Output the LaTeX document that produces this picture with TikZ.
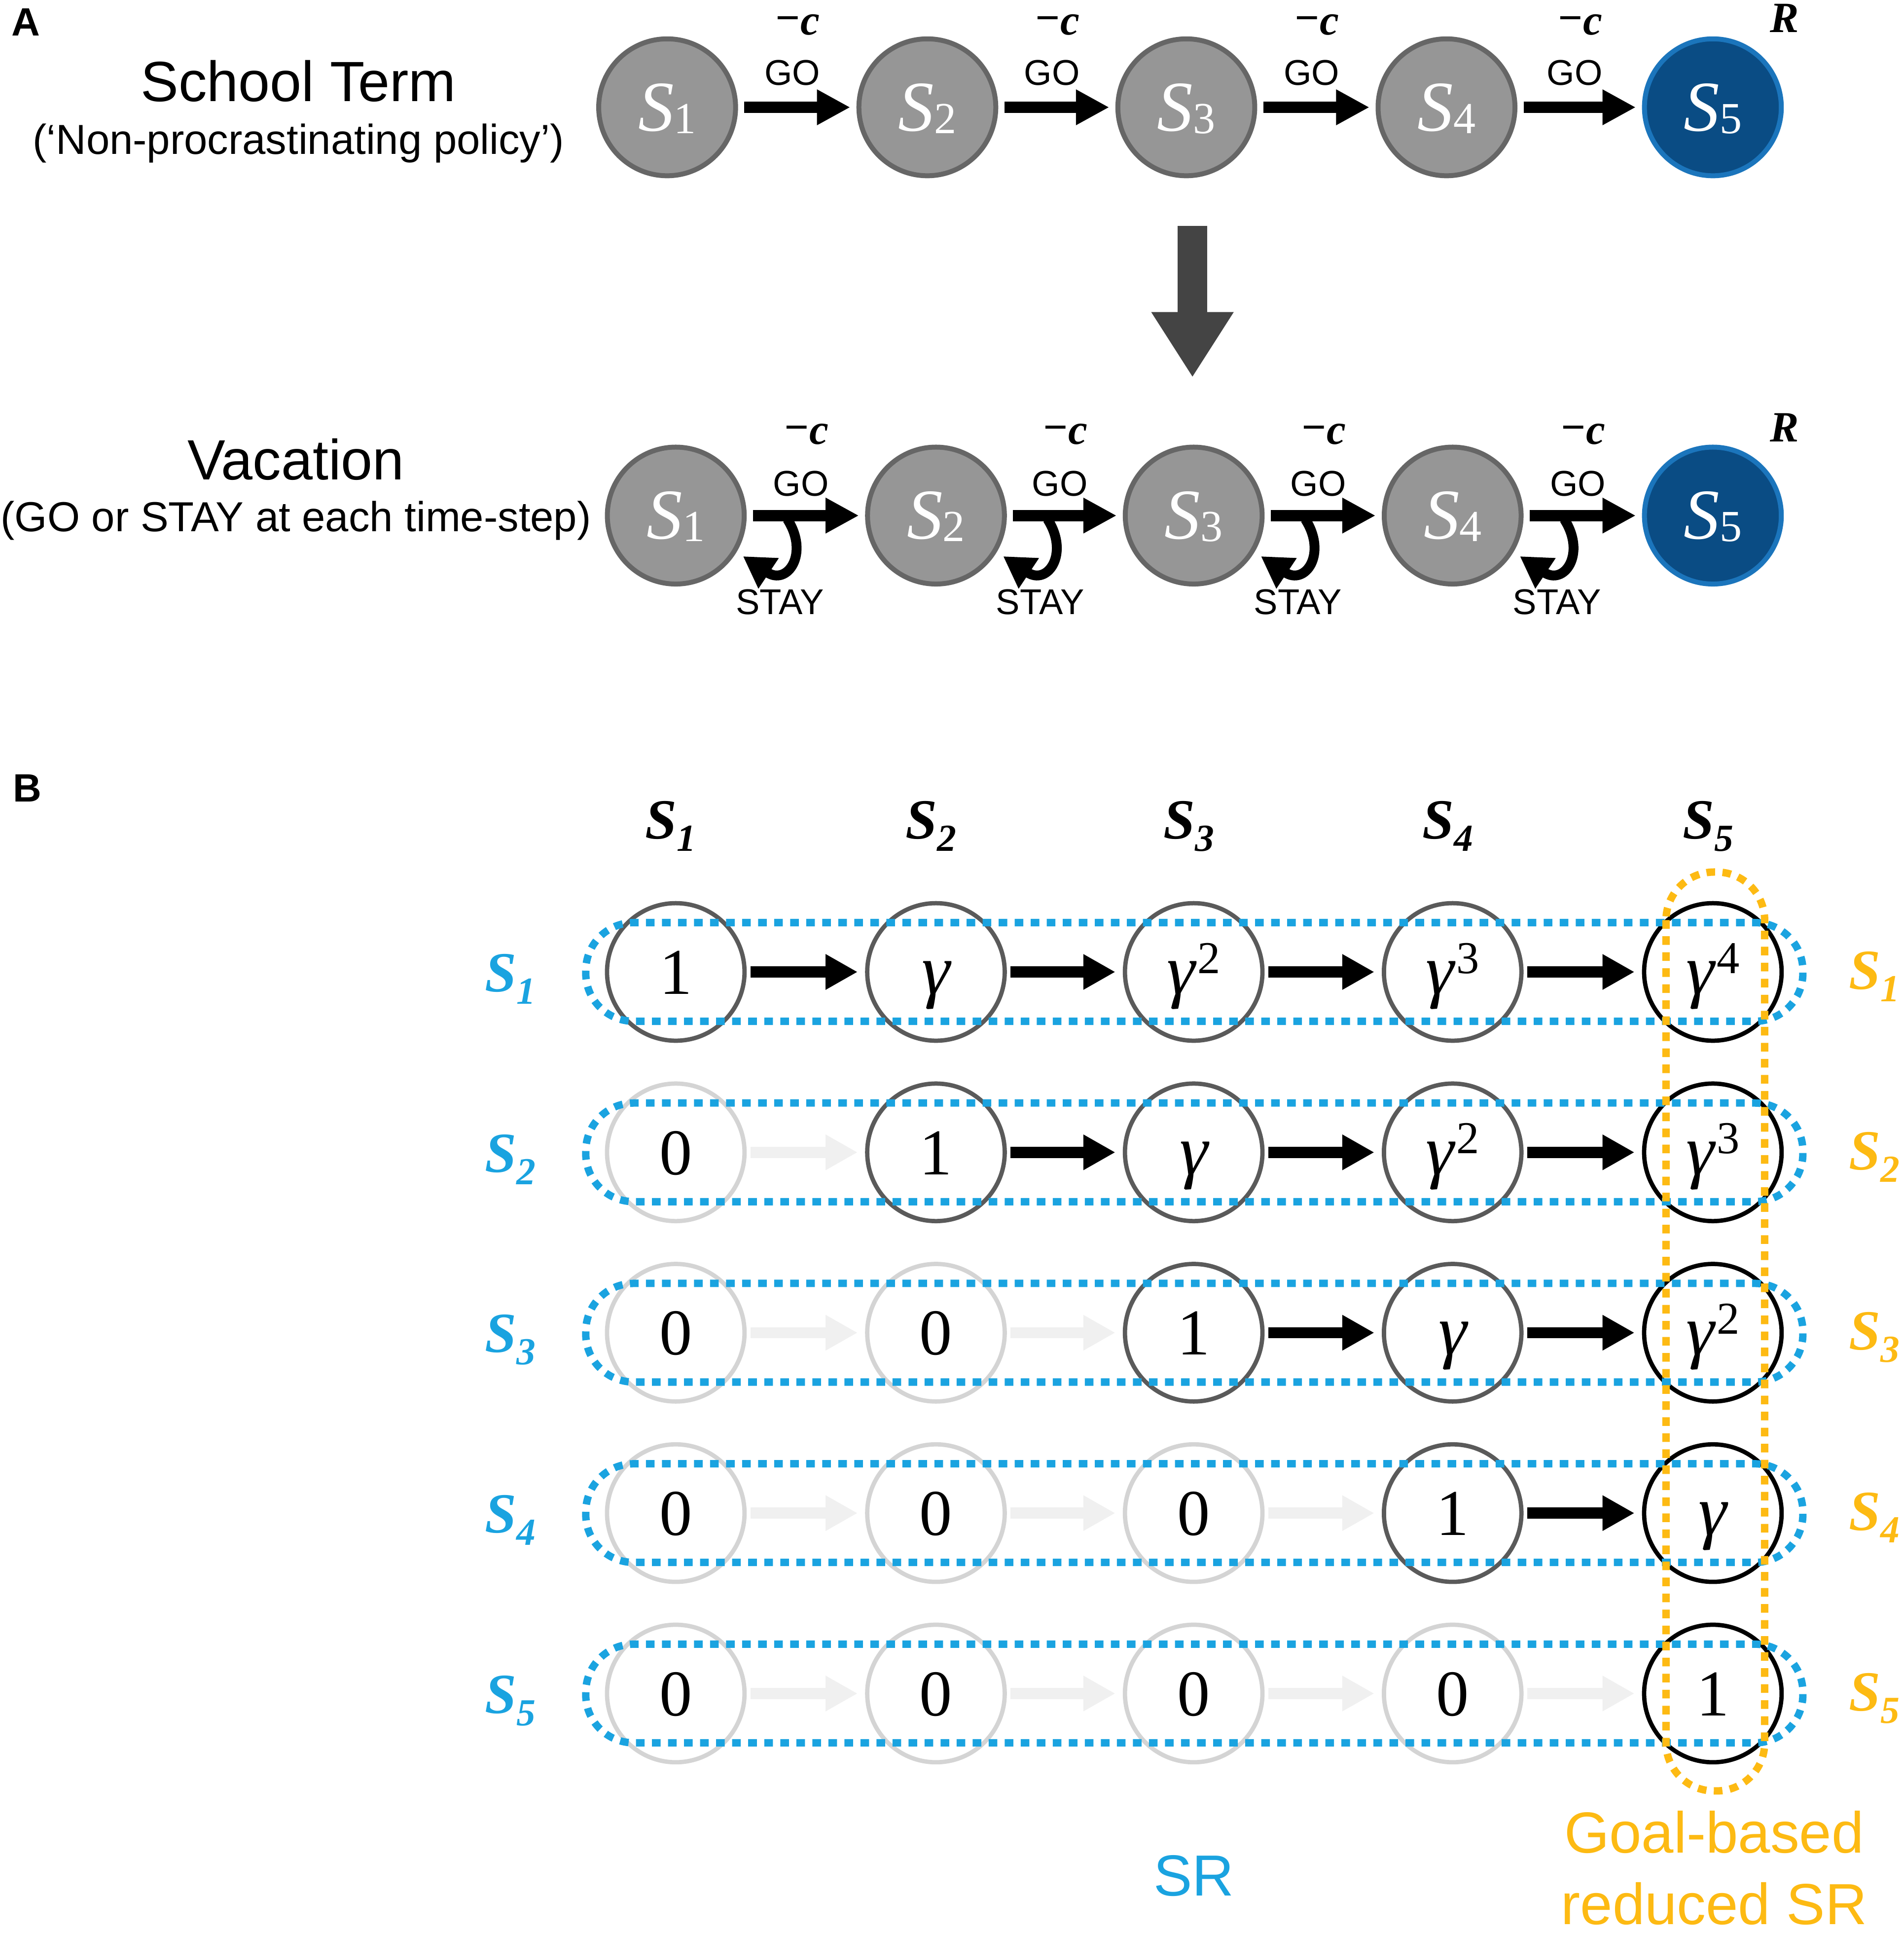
\documentclass[tikz,border=0pt]{standalone}
\usepackage{fontspec}
\setmainfont{Liberation Serif}
\setsansfont{Liberation Sans}
\usepackage{xcolor}
\usepackage{tikz}
\usetikzlibrary{calc}
\usetikzlibrary{arrows.meta}

\definecolor{stategray}{RGB}{150,150,150}
\definecolor{stateedge}{RGB}{102,102,102}
\definecolor{goalblue}{RGB}{10,76,132}
\definecolor{goaledge}{RGB}{27,117,188}
\definecolor{srblue}{RGB}{26,163,224}
\definecolor{srgold}{RGB}{253,186,19}
\definecolor{ringdark}{RGB}{90,90,90}
\definecolor{ringlight}{RGB}{212,212,212}
\definecolor{arrowlight}{RGB}{240,240,240}
\definecolor{flowgray}{RGB}{68,68,68}

\newcommand{\fsz}[1]{\fontsize{#1}{#1}\selectfont}
\newcommand{\stname}[1]{{\fsz{58}\itshape S}{\fsz{36}\raisebox{-2pt}{#1}}}
\newcommand{\bsname}[1]{{\fsz{46}\bfseries\itshape S}{\fsz{31}\bfseries\itshape\raisebox{-10pt}{#1}}}
\newcommand{\gam}{{\fsz{58}\itshape γ}}
\newcommand{\gpow}[1]{\gam\kern2pt{\fsz{37}\raisebox{17pt}{#1}}}

\tikzset{
  panellab/.style={anchor=base west,font=\sffamily\bfseries\fsz{32}},
  heading/.style={anchor=base,font=\sffamily\fsz{46}},
  subheading/.style={anchor=base,font=\sffamily\fsz{34}},
  state/.style={circle,minimum size=111pt,inner sep=0pt,line width=4pt,
    draw=stateedge,fill=stategray,text=white,text height=38pt,text depth=0pt},
  goalstate/.style={state,draw=goaledge,fill=goalblue},
  goarrow/.style={line width=9pt,-{Triangle[width=27pt,length=27pt]},
    shorten <=5pt,shorten >=5pt},
  stayarrow/.style={line width=8pt,-{Triangle[width=28pt,length=25pt]}},
  golab/.style={anchor=base,font=\sffamily\fsz{29}},
  staylab/.style={anchor=base,font=\sffamily\fsz{29}},
  costlab/.style={anchor=base,font=\bfseries\itshape\fsz{35}},
  flowarrow/.style={line width=24pt,flowgray,-{Triangle[width=63pt,length=53pt]}},
  cell/.style={circle,minimum size=111.5pt,inner sep=0pt,line width=3.5pt,
    fill=white,font=\fsz{53},text height=36pt,text depth=0pt},
  cellarrow/.style={line width=9pt,-{Triangle[width=27pt,length=26pt]},
    shorten <=3pt,shorten >=6pt},
  statehead/.style={anchor=base},
  srloop/.style={srblue,line width=6pt,dash pattern=on 7pt off 6pt,rounded corners=39pt},
  goalloop/.style={srloop,srgold},
  loopname/.style={anchor=base,font=\sffamily\fontsize{47}{58}\selectfont}
}

\begin{document}
\begin{tikzpicture}[x=1pt,y=-1pt]
\useasboundingbox (0,0) rectangle (1544,1568);

% ---- A ----
\node[panellab] (labA) at (6,29) {A};
\node[heading] (termtitle) at (242,82) {School Term};
\node[subheading] (termsub) at (242,125) {(‘Non-procrastinating policy’)};
\node[heading] (vactitle) at (240,389) {Vacation};
\node[subheading] (vacsub) at (240,431) {(GO or STAY at each time-step)};

\foreach \x [count=\i] in {541,752,962,1173}
  \node[state] (a\i) at (\x,87) {\stname{\i}};
\node[goalstate] (a5) at (1389,87) {\stname{5}};

\foreach \x [count=\i] in {548,759,968,1178}
  \node[state] (v\i) at (\x,418) {\stname{\i}};
\node[goalstate] (v5) at (1389,418) {\stname{5}};

\foreach \i [evaluate=\i as \j using int(\i+1)] in {1,...,4}{
  \draw[goarrow] (a\i) -- (a\j);
  \node[golab] (goa\i) at ($(a\i.east)!0.5!(a\j.west)+(-4,-18)$) {GO};
  \node[costlab] (costa\i) at ($(a\i.east)!0.5!(a\j.west)+(0,-59)$) {\raisebox{2pt}{−}c};
  \draw[goarrow] (v\i) -- (v\j);
  \node[golab] (gov\i) at ($(v\i.east)!0.5!(v\j.west)+(-4,-16)$) {GO};
  \node[costlab] (costv\i) at ($(v\i.east)!0.5!(v\j.west)+(0,-58)$) {\raisebox{2pt}{−}c};
  % stay loop
  \coordinate (gofoot\i) at ($(v\i.east)+(33,3)$);
  \coordinate (stayend\i) at ($(v\i.east)+(-3,33)$);
  \draw[stayarrow] (gofoot\i) .. controls +(18,28) and +(36,24) .. (stayend\i);
  \node[staylab] (stay\i) at ($(v\i.east)+(27,80)$) {STAY};
}
\node[costlab] (rewa) at ($(a5.center)+(58,-61)$) {R};
\node[costlab] (rewv) at ($(v5.center)+(58,-60)$) {R};

\coordinate (flowtop) at (967,183);
\coordinate (flowbot) at (967,306);
\draw[flowarrow] (flowtop) -- (flowbot);

% ---- B ----
\node[panellab] (labB) at (7,650) {B};

\foreach \i in {1,...,5}{
  \pgfmathsetmacro{\y}{788+146.25*(\i-1)}
  \foreach \x [count=\j] in {548,759,968,1178,1389}{
    \pgfmathtruncatemacro{\d}{\j-\i}
    \ifnum\d<0
      \def\ringcol{ringlight}\def\val{0}%
    \else
      \ifnum\j=5 \def\ringcol{black}\else \def\ringcol{ringdark}\fi
      \ifcase\d \def\val{1}\or \def\val{\gam}\else \def\val{\gpow{\d}}\fi
    \fi
    \node[cell,draw=\ringcol] (m\i\j) at (\x,\y) {\val};
  }
}
\foreach \i in {1,...,5}{
  \foreach \j [evaluate=\j as \k using int(\j+1)] in {1,...,4}{
    \ifnum\j<\i \def\arrcol{arrowlight}\else \def\arrcol{black}\fi
    \draw[cellarrow,\arrcol] (m\i\j) -- (m\i\k);
  }
}

% column and row names
\foreach \j in {1,...,5}
  \node[statehead] (head\j) at ($(m1\j.center)+(-4,-108)$) {\bsname{\j}};
\foreach \i in {1,...,5}{
  \node[statehead,srblue] (rowsr\i) at ($(m\i1.center)+(-134,16)$) {\bsname{\i}};
  \node[statehead,srgold] (rowgoal\i) at ($(m\i5.center)+(131,14)$) {\bsname{\i}};
}

% SR rows and goal column
\foreach \i in {1,...,5}
  \draw[srloop] ($(m\i1.center)+(-73,-40)$) rectangle ($(m\i5.center)+(73,40)$);
\draw[goalloop] ($(m15.center)+(-38,-81)$) rectangle ($(m55.center)+(42,79)$);

\node[loopname,srblue] (srname) at (968,1537) {SR};
\node[loopname,srgold,align=center] (goalname) at (1390,1560) {Goal-based\\reduced SR};
\end{tikzpicture}
\end{document}
